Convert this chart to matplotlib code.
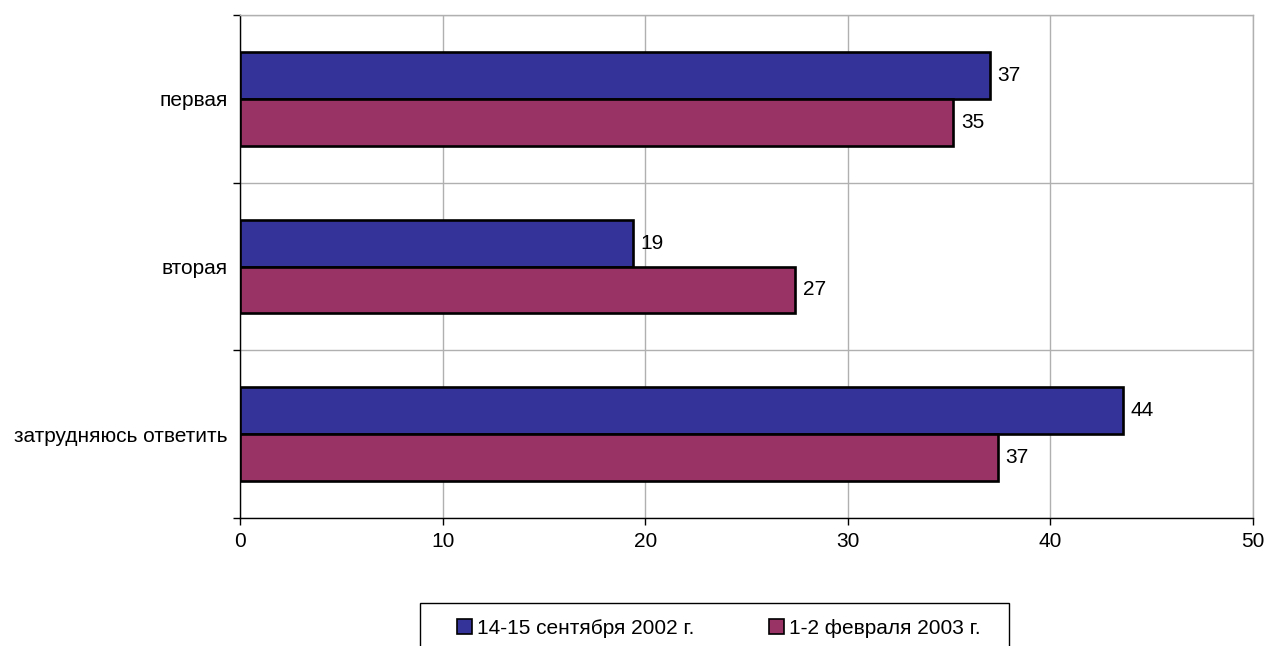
import matplotlib
matplotlib.use("Agg")
import matplotlib.pyplot as plt
import numpy as np
from matplotlib.patches import Patch, Rectangle

plt.rcParams['font.family'] = ['Liberation Sans', 'DejaVu Sans']

categories = ["первая", "вторая", "затрудняюсь ответить"]
series_names = ["14-15 сентября 2002 г.", "1-2 февраля 2003 г."]
sep2002 = [37.0, 19.4, 43.6]
feb2003 = [35.2, 27.4, 37.4]
x_ticks = [0, 10, 20, 30, 40, 50]

colors = ["#333399", "#993366"]
fs = 15

W, H = 1266, 646
fig = plt.figure(figsize=(W/100, H/100), dpi=100)
ax = fig.add_axes([240/W, 1-518/H, (1253-240)/W, (518-15)/H])

y = np.arange(len(categories))
h = 0.28
for i, (vals, off) in enumerate([(sep2002, -h/2), (feb2003, h/2)]):
    bars = ax.barh(y + off, vals, height=h, color=colors[i], edgecolor="black",
                   linewidth=1.9, zorder=3, label=series_names[i])
    for b, v in zip(bars, vals):
        ax.annotate(f"{round(v):d}", (b.get_width(), b.get_y() + b.get_height()/2),
                    xytext=(5.5, 0), textcoords="offset points", va="center", ha="left",
                    fontsize=fs, color="black")

ax.set_xlim(0, 50)
ax.set_ylim(len(categories) - 0.5, -0.5)
ax.set_xticks(x_ticks)
ax.set_xticklabels([str(t) for t in x_ticks], fontsize=fs)

bounds = np.arange(-0.5, len(categories) + 0.5, 1.0)
ax.set_yticks(bounds)
ax.set_yticklabels([""] * len(bounds))
ax.set_yticks(y, minor=True)
ax.set_yticklabels(categories, minor=True, fontsize=fs)
ax.tick_params(axis="y", which="minor", length=0, pad=9)
ax.tick_params(axis="y", which="major", length=5, width=1, direction="out")
ax.tick_params(axis="x", length=5, width=1, direction="out", pad=5)

ax.grid(True, axis="x", color="#b0b0b0", linewidth=1, zorder=0)
ax.grid(True, axis="y", which="major", color="#b0b0b0", linewidth=1, zorder=0)
ax.spines["left"].set_color("black")
ax.spines["bottom"].set_color("black")
ax.spines["top"].set_color("#b0b0b0")
ax.spines["right"].set_color("#b0b0b0")
for s in ax.spines.values():
    s.set_linewidth(1)

# legend box
fig.patches.append(Rectangle((420/W, 1-652/H), (1009-420)/W, (652-603)/H,
                             transform=fig.transFigure, facecolor="white",
                             edgecolor="black", linewidth=1, zorder=1))
handles = [Patch(facecolor=colors[i], edgecolor="black", linewidth=1.2) for i in range(2)]
leg = fig.legend(handles, series_names, loc="center left",
                 bbox_to_anchor=(457/W, 1-628/H), ncol=2, fontsize=fs,
                 frameon=False, handlelength=0.7, handleheight=0.7, handletextpad=0.25,
                 columnspacing=3.6, borderpad=0, borderaxespad=0)
leg.set_zorder(2)

fig.savefig("out.png", dpi=100)
